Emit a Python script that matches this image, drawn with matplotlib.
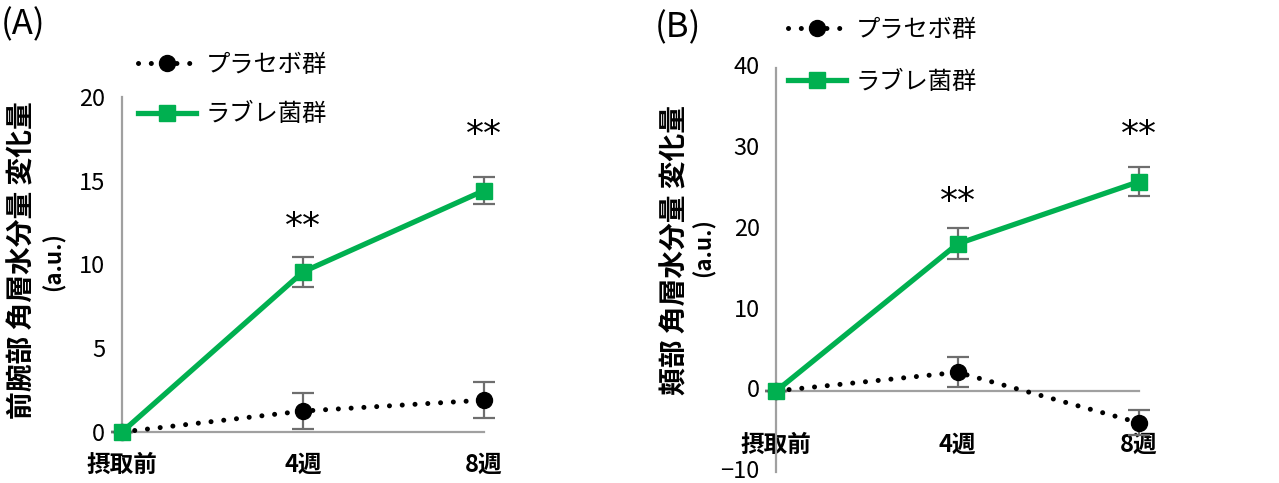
import matplotlib
matplotlib.use("Agg")
import matplotlib.pyplot as plt

plt.rcParams['font.family'] = ['Noto Sans CJK JP', 'DejaVu Sans']
plt.rcParams['axes.unicode_minus'] = True

# ---------------- data ----------------
timepoints = ["摂取前", "4週", "8週"]
series_names = ["プラセボ群", "ラブレ菌群"]

a_placebo = [0.0, 1.25, 1.9]
a_placebo_err = [0.0, 1.05, 1.07]
a_labre = [0.0, 9.55, 14.4]
a_labre_err = [0.0, 0.9, 0.8]
a_yticks = [0, 5, 10, 15, 20]
a_sig_y = [None, 12.2, 17.7]

b_placebo = [0.0, 2.3, -3.95]
b_placebo_err = [0.0, 1.85, 1.55]
b_labre = [0.0, 18.2, 25.9]
b_labre_err = [0.0, 1.9, 1.8]
b_yticks = [-10, 0, 10, 20, 30, 40]
b_sig_y = [None, 23.4, 31.7]

a_ylabel = "前腕部 角層水分量 変化量"
b_ylabel = "頬部 角層水分量 変化量"
unit_label = "(a.u.)"

W, H = 1279, 483
fig = plt.figure(figsize=(W / 100, H / 100), dpi=100)

GREEN = "#00B050"
GRAY = "#A0A0A0"
ERR = "#6E6E6E"

def px_ax(l, t, r, b):
    return fig.add_axes([l / W, 1 - b / H, (r - l) / W, (b - t) / H])

def draw(ax, plac, plac_err, lab, lab_err, yticks, sig_y, ylim, xpad, zero_spine=False):
    if zero_spine:
        ax.spines['bottom'].set_position(('data', 0))
    x = list(range(len(timepoints)))
    ax.errorbar(x, plac, yerr=plac_err, fmt='none', ecolor=ERR, elinewidth=1.6,
                capsize=8, capthick=1.6, zorder=3, clip_on=False)
    ax.errorbar(x, lab, yerr=lab_err, fmt='none', ecolor=ERR, elinewidth=1.6,
                capsize=8, capthick=1.6, zorder=3, clip_on=False)
    lp, = ax.plot(x, plac, color='black', lw=3.6, linestyle=(0, (0.01, 2.55)),
                  dash_capstyle='round', marker='o', markersize=11.5,
                  label=series_names[0], zorder=4, clip_on=False)
    lg, = ax.plot(x, lab, color=GREEN, lw=3.8, marker='s', markersize=11,
                  label=series_names[1], zorder=5, clip_on=False)
    for xi, sy in zip(x, sig_y):
        if sy is not None:
            ax.text(xi, sy, "**", ha='center', va='center', fontsize=26,
                    color='black', family=['DejaVu Sans'])
    ax.set_xlim(0, len(timepoints) - 1)
    ax.set_ylim(*ylim)
    ax.set_yticks(yticks)
    ax.set_yticklabels([str(v).replace('-', '\u2212') for v in yticks], fontsize=17)
    ax.set_xticks(x)
    ax.set_xticklabels(timepoints, fontsize=17, fontweight='bold')
    ax.tick_params(axis='both', length=0)
    ax.tick_params(axis='y', pad=12)
    ax.tick_params(axis='x', pad=xpad)
    for s in ['top', 'right']:
        ax.spines[s].set_visible(False)
    for s in ['left', 'bottom']:
        ax.spines[s].set_color(GRAY)
        ax.spines[s].set_linewidth(1.6)
    ax.set_facecolor('none')
    return lp, lg

# Panel A
axA = px_ax(122, 96.7, 484, 432)
lpA, lgA = draw(axA, a_placebo, a_placebo_err, a_labre, a_labre_err, a_yticks,
                a_sig_y, (0, 20), 15)
axA.legend(handles=[lpA, lgA], loc='upper left', bbox_to_anchor=(138 / W, 1 - 52 / H),
           bbox_transform=fig.transFigure, frameon=False, fontsize=17.5,
           handlelength=2.4, handletextpad=0.4, labelspacing=0.95,
           borderpad=0, borderaxespad=0)

# Panel B
axB = px_ax(776.3, 67.7, 1139, 471.7)
lpB, lgB = draw(axB, b_placebo, b_placebo_err, b_labre, b_labre_err, b_yticks,
                b_sig_y, (-10, 40), 30, zero_spine=True)
for lbl in axB.get_yticklabels():
    lbl.set_va('center')
axB.legend(handles=[lpB, lgB], loc='upper left', bbox_to_anchor=(788 / W, 1 - 17 / H),
           bbox_transform=fig.transFigure, frameon=False, fontsize=17.5,
           handlelength=2.4, handletextpad=0.4, labelspacing=1.05,
           borderpad=0, borderaxespad=0)

# y labels
fig.text(23 / W, 1 - 260 / H, a_ylabel, rotation=90, ha='center', va='center',
         fontsize=20, fontweight='bold')
fig.text(54 / W, 1 - 262 / H, unit_label, rotation=90, ha='center', va='center',
         fontsize=16, fontweight='bold')
fig.text(675 / W, 1 - 250 / H, b_ylabel, rotation=90, ha='center', va='center',
         fontsize=20, fontweight='bold')
fig.text(704 / W, 1 - 248 / H, unit_label, rotation=90, ha='center', va='center',
         fontsize=16, fontweight='bold')

# panel letters
fig.text(1 / W, 1 - 25 / H, "(A)", ha='left', va='center', fontsize=25)
fig.text(655 / W, 1 - 28 / H, "(B)", ha='left', va='center', fontsize=25)

fig.savefig("out.png", dpi=100, facecolor='white')
